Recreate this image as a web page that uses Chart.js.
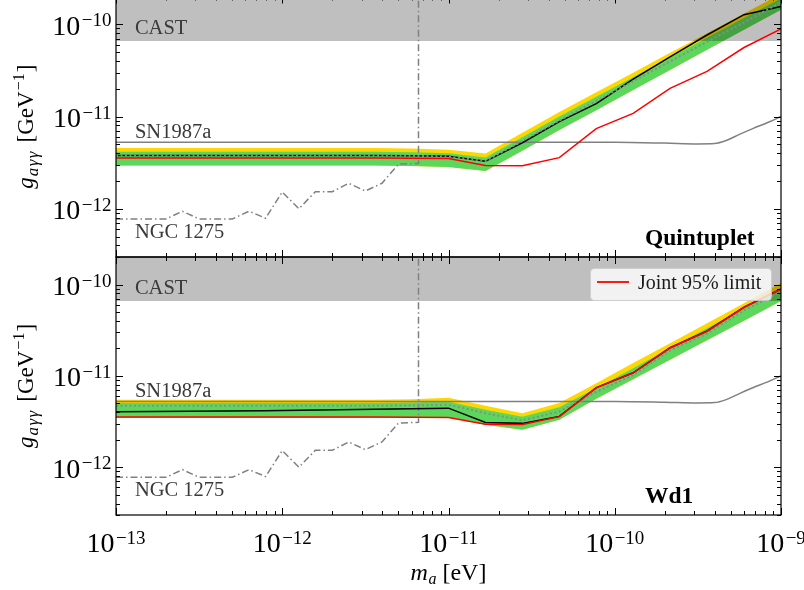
<!DOCTYPE html>
<html lang="en">
<head>
<meta charset="UTF-8">
<title>Axion-photon coupling limits</title>
<script src="https://cdn.jsdelivr.net/npm/chart.js@4.4.1/dist/chart.umd.min.js"></script>
<style>
  html, body { margin: 0; padding: 0; background: #fff; }
  #fig { position: relative; width: 804px; height: 590px; overflow: hidden; }
  #fig canvas { position: absolute; left: 0; }
  #chart-top { top: -6px; }
  #chart-bottom { top: 254px; }
</style>
</head>
<body>
<div id="fig">
  <canvas id="chart-top" width="804" height="266"></canvas>
  <canvas id="chart-bottom" width="804" height="336"></canvas>
</div>
<script>
const SERIF = '"Liberation Serif", "DejaVu Serif", serif';

// axion mass grid of the limit curves [eV]
const mass = [1.00e-13, 1.67e-13, 2.78e-13, 4.64e-13, 7.74e-13, 1.29e-12, 2.15e-12, 3.59e-12, 5.99e-12,
  1.00e-11, 1.67e-11, 2.78e-11, 4.64e-11, 7.74e-11, 1.29e-10, 2.15e-10, 3.59e-10, 5.99e-10, 1.00e-9];

// joint 95% limit (both clusters) [GeV^-1]
const jointLimit = [3.55e-12, 3.55e-12, 3.55e-12, 3.55e-12, 3.55e-12, 3.55e-12, 3.55e-12, 3.55e-12, 3.53e-12,
  3.50e-12, 2.95e-12, 2.93e-12, 3.58e-12, 7.40e-12, 1.08e-11, 2.02e-11, 3.08e-11, 5.60e-11, 8.90e-11];

// Quintuplet: observed limit, expected median, 1 and 2 sigma containment
const quintLimit = [3.78e-12, 3.78e-12, 3.78e-12, 3.78e-12, 3.78e-12, 3.78e-12, 3.78e-12, 3.78e-12, 3.75e-12,
  3.70e-12, 3.27e-12, 5.20e-12, 8.82e-12, 1.38e-11, 2.54e-11, 4.44e-11, 7.65e-11, 1.27e-10, 1.56e-10];
const quintMedian = [3.78e-12, 3.78e-12, 3.78e-12, 3.78e-12, 3.78e-12, 3.78e-12, 3.78e-12, 3.78e-12, 3.75e-12,
  3.68e-12, 3.30e-12, 5.41e-12, 9.04e-12, 1.48e-11, 2.41e-11, 3.96e-11, 6.46e-11, 1.05e-10, 1.73e-10];
const quintGreenHi = [4.15e-12, 4.15e-12, 4.15e-12, 4.15e-12, 4.15e-12, 4.15e-12, 4.15e-12, 4.15e-12, 4.10e-12,
  4.00e-12, 3.60e-12, 5.97e-12, 1.00e-11, 1.64e-11, 2.67e-11, 4.37e-11, 7.14e-11, 1.17e-10, 1.90e-10];
const quintGreenLo = [2.94e-12, 2.94e-12, 2.94e-12, 2.94e-12, 2.94e-12, 2.94e-12, 2.94e-12, 2.94e-12, 2.90e-12,
  2.84e-12, 2.57e-12, 4.26e-12, 7.13e-12, 1.17e-11, 1.94e-11, 3.19e-11, 5.28e-11, 8.71e-11, 1.44e-10];
const quintYellowHi = [4.55e-12, 4.55e-12, 4.55e-12, 4.55e-12, 4.55e-12, 4.55e-12, 4.55e-12, 4.55e-12, 4.50e-12,
  4.36e-12, 3.98e-12, 6.68e-12, 1.12e-11, 1.83e-11, 2.99e-11, 4.90e-11, 8.00e-11, 1.31e-10, 2.14e-10];

// Wd1
const wd1Limit = [4.04e-12, 4.07e-12, 4.10e-12, 4.12e-12, 4.15e-12, 4.20e-12, 4.25e-12, 4.30e-12, 4.36e-12,
  4.43e-12, 3.09e-12, 3.02e-12, 3.60e-12, 7.45e-12, 1.08e-11, 2.03e-11, 3.10e-11, 5.65e-11, 8.95e-11];
const wd1Median = [4.70e-12, 4.70e-12, 4.70e-12, 4.70e-12, 4.70e-12, 4.70e-12, 4.70e-12, 4.70e-12, 4.75e-12,
  4.82e-12, 3.91e-12, 3.25e-12, 4.07e-12, 6.68e-12, 1.02e-11, 1.90e-11, 2.90e-11, 5.20e-11, 8.30e-11];
const wd1GreenHi = [5.04e-12, 5.04e-12, 5.04e-12, 5.04e-12, 5.04e-12, 5.04e-12, 5.04e-12, 5.04e-12, 5.10e-12,
  5.20e-12, 4.25e-12, 3.56e-12, 4.53e-12, 7.34e-12, 1.21e-11, 2.01e-11, 3.33e-11, 5.50e-11, 9.12e-11];
const wd1GreenLo = [3.47e-12, 3.47e-12, 3.47e-12, 3.47e-12, 3.47e-12, 3.47e-12, 3.47e-12, 3.47e-12, 3.50e-12,
  3.52e-12, 2.91e-12, 2.57e-12, 3.30e-12, 5.61e-12, 9.18e-12, 1.50e-11, 2.45e-11, 4.02e-11, 6.60e-11];
const wd1YellowHi = [5.47e-12, 5.47e-12, 5.47e-12, 5.47e-12, 5.47e-12, 5.47e-12, 5.47e-12, 5.47e-12, 5.55e-12,
  5.75e-12, 4.70e-12, 3.91e-12, 5.04e-12, 8.32e-12, 1.38e-11, 2.28e-11, 3.77e-11, 6.25e-11, 1.04e-10];

// other constraints
const castLimit = 6.6e-11;
const snMass = [1e-13, 1e-10, 2.0e-10, 3.16e-10, 3.98e-10, 4.68e-10, 5.62e-10, 6.76e-10, 8.32e-10, 1e-9];
const snLimit = [5.25e-12, 5.25e-12, 5.15e-12, 5.05e-12, 5.10e-12, 5.50e-12, 6.40e-12, 7.40e-12, 8.60e-12, 1.0e-11];
const ngcMass = [1e-13, 2.0e-13, 2.51e-13, 3.16e-13, 3.98e-13, 5.01e-13, 6.31e-13, 7.94e-13, 1.0e-12,
  1.26e-12, 1.58e-12, 2.0e-12, 2.51e-12, 3.16e-12, 3.98e-12, 5.01e-12, 6.6e-12, 6.6e-12];
const ngcLimit = [7.76e-13, 7.76e-13, 9.4e-13, 7.76e-13, 7.76e-13, 7.76e-13, 9.4e-13, 7.9e-13, 1.52e-12,
  1.0e-12, 1.53e-12, 1.53e-12, 1.89e-12, 1.56e-12, 1.89e-12, 3.05e-12, 3.1e-12, 1e-8];

const X_MIN = 1e-13, X_MAX = 1e-9;
const Y_MIN = 3e-13, Y_MAX = 2e-10;

function pts(xs, ys) { return xs.map((x, i) => ({ x: x, y: ys[i] })); }

// draw a row of text pieces (font / baseline shift) as one label
function drawRuns(ctx, runs, x, y, align) {
  let w = 0;
  runs.forEach(r => { ctx.font = r.f; r.w = ctx.measureText(r.t).width; w += r.w + (r.gap || 0); });
  let cx = align === 'right' ? x - w : align === 'center' ? x - w / 2 : x;
  ctx.textAlign = 'left';
  ctx.textBaseline = 'alphabetic';
  runs.forEach(r => {
    ctx.font = r.f;
    ctx.fillText(r.t, cx, y + (r.dy || 0));
    cx += r.w + (r.gap || 0);
  });
}

function pow10(exp) {
  return [
    { t: '10', f: '28px ' + SERIF, gap: 1.5 },
    { t: '\u2212' + exp, f: '19px ' + SERIF, dy: -8.5 }
  ];
}

const decor = {
  id: 'decor',
  afterDraw(chart, args, o) {
    const ctx = chart.ctx, a = chart.chartArea;
    const sx = chart.scales.x, sy = chart.scales.y;
    const X = v => sx.getPixelForValue(v), Y = v => sy.getPixelForValue(v);
    ctx.save();

    // constraint names
    ctx.fillStyle = '#3a3a3a';
    ctx.font = '20.5px ' + SERIF;
    ctx.textAlign = 'left';
    ctx.textBaseline = 'alphabetic';
    ctx.fillText('CAST', X(1.3e-13), Y(7.9e-11));
    ctx.fillText('SN1987a', X(1.3e-13), Y(5.9e-12));
    ctx.fillText('NGC 1275', X(1.3e-13), Y(4.8e-13));

    // cluster name
    ctx.fillStyle = '#000';
    ctx.font = 'bold 23.5px ' + SERIF;
    ctx.fillText(o.name, X(1.52e-10), Y(4.05e-13));

    // legend
    if (o.legend) {
      const bw = 181, bh = 32, bx = a.right - 10 - bw, by = a.top + 11;
      ctx.beginPath();
      ctx.roundRect(bx + 0.5, by + 0.5, bw, bh, 4);
      ctx.fillStyle = 'rgba(255,255,255,0.8)';
      ctx.fill();
      ctx.strokeStyle = 'rgba(204,204,204,0.8)';
      ctx.lineWidth = 1;
      ctx.stroke();
      ctx.strokeStyle = '#ff0000';
      ctx.lineWidth = 1.8;
      ctx.beginPath();
      ctx.moveTo(bx + 7, by + 14);
      ctx.lineTo(bx + 39, by + 14);
      ctx.stroke();
      ctx.fillStyle = '#1a1a1a';
      ctx.font = '20px ' + SERIF;
      ctx.fillText('Joint 95% limit', bx + 48, by + 21);
    }

    // frame
    ctx.strokeStyle = '#000';
    ctx.lineWidth = 1.2;
    ctx.strokeRect(a.left, a.top, a.right - a.left, a.bottom - a.top);

    // inward ticks on all four sides
    ctx.lineWidth = 1;
    ctx.beginPath();
    for (let d = -14; d <= -9; d++) {
      for (let m = 1; m <= 9; m++) {
        const v = m * Math.pow(10, d);
        const len = m === 1 ? 7 : 4;
        if (v >= X_MIN * 0.999 && v <= X_MAX * 1.001) {
          const px = Math.round(X(v)) + 0.5;
          ctx.moveTo(px, a.bottom); ctx.lineTo(px, a.bottom - len);
          ctx.moveTo(px, a.top); ctx.lineTo(px, a.top + len);
        }
        if (v >= Y_MIN * 0.999 && v <= Y_MAX * 1.001) {
          const py = Math.round(Y(v)) + 0.5;
          ctx.moveTo(a.left, py); ctx.lineTo(a.left + len, py);
          ctx.moveTo(a.right, py); ctx.lineTo(a.right - len, py);
        }
      }
    }
    ctx.stroke();

    // y tick labels
    ctx.fillStyle = '#000';
    [-12, -11, -10].forEach(e => {
      drawRuns(ctx, pow10(-e), a.left - 4.5, Y(Math.pow(10, e)) + 10.5, 'right');
    });

    // y axis title
    ctx.save();
    ctx.translate(33, (a.top + a.bottom) / 2);
    ctx.rotate(-Math.PI / 2);
    drawRuns(ctx, [
      { t: 'g', f: 'italic 23px ' + SERIF, gap: 1 },
      { t: 'a', f: 'italic 17px ' + SERIF, dy: 5, gap: 1.5 },
      { t: '\u03b3', f: 'italic 17px ' + SERIF, dy: 5, gap: 1.5 },
      { t: '\u03b3', f: 'italic 17px ' + SERIF, dy: 5, gap: 9 },
      { t: '[GeV', f: '23px ' + SERIF, gap: 1 },
      { t: '\u22121', f: '16px ' + SERIF, dy: -9, gap: 1 },
      { t: ']', f: '23px ' + SERIF }
    ], 0, 0, 'center');
    ctx.restore();

    // x tick labels and title on the lower panel only
    if (o.xLabels) {
      [-13, -12, -11, -10, -9].forEach(e => {
        drawRuns(ctx, pow10(-e), X(Math.pow(10, e)), a.bottom + 37, 'center');
      });
      drawRuns(ctx, [
        { t: 'm', f: 'italic 24px ' + SERIF, gap: 0.5 },
        { t: 'a', f: 'italic 16px ' + SERIF, dy: 4, gap: 6 },
        { t: '[eV]', f: '24px ' + SERIF }
      ], X(Math.pow(10, -11)), a.bottom + 65, 'center');
    }

    ctx.restore();
  }
};

function makePanel(id, d, o) {
  const base = { pointRadius: 0, tension: 0, fill: false, borderWidth: 1.5 };
  return new Chart(document.getElementById(id), {
    type: 'line',
    data: {
      datasets: [
        // 0: lower edge of the containment bands
        Object.assign({}, base, { data: pts(mass, d.greenLo), borderWidth: 0, borderColor: 'transparent', order: 20 }),
        Object.assign({}, base, { data: pts(mass, d.yellowHi), borderWidth: 0, borderColor: 'transparent',
          backgroundColor: '#ffd700', fill: 0, order: 12 }),
        Object.assign({}, base, { data: pts(mass, d.greenHi), borderWidth: 0, borderColor: 'transparent',
          backgroundColor: '#5bd75b', fill: 0, order: 11 }),
        Object.assign({}, base, { data: [{ x: X_MIN, y: castLimit }, { x: X_MAX, y: castLimit }],
          borderWidth: 0, borderColor: 'transparent', backgroundColor: 'rgba(0,0,0,0.25)', fill: 'end', order: 10 }),
        Object.assign({}, base, { data: pts(ngcMass, ngcLimit), borderColor: '#808080',
          borderDash: [7, 3, 1.5, 3], order: 8 }),
        Object.assign({}, base, { data: pts(snMass, snLimit), borderColor: '#808080',
          cubicInterpolationMode: 'monotone', order: 7 }),
        Object.assign({}, base, { data: pts(mass, d.limit), borderColor: '#000', order: 5 }),
        Object.assign({}, base, { data: pts(mass, d.median), borderColor: '#8c8c8c', borderWidth: 2,
          borderDash: [2, 2.5], order: 4 }),
        Object.assign({}, base, { data: pts(mass, jointLimit), borderColor: '#ff0000', order: 3 })
      ]
    },
    options: {
      responsive: false,
      animation: false,
      events: [],
      layout: { padding: o.padding },
      scales: {
        x: { type: 'logarithmic', min: X_MIN, max: X_MAX, display: false },
        y: { type: 'logarithmic', min: Y_MIN, max: Y_MAX, display: false }
      },
      plugins: {
        legend: { display: false },
        tooltip: { enabled: false },
        decor: o
      }
    },
    plugins: [decor]
  });
}

makePanel('chart-top', {
  limit: quintLimit, median: quintMedian, greenHi: quintGreenHi, greenLo: quintGreenLo, yellowHi: quintYellowHi
}, { name: 'Quintuplet', legend: false, xLabels: false, padding: { left: 116, right: 23, top: 2.5, bottom: 3 } });

makePanel('chart-bottom', {
  limit: wd1Limit, median: wd1Median, greenHi: wd1GreenHi, greenLo: wd1GreenLo, yellowHi: wd1YellowHi
}, { name: 'Wd1', legend: true, xLabels: true, padding: { left: 116, right: 23, top: 3, bottom: 75 } });
</script>
</body>
</html>
